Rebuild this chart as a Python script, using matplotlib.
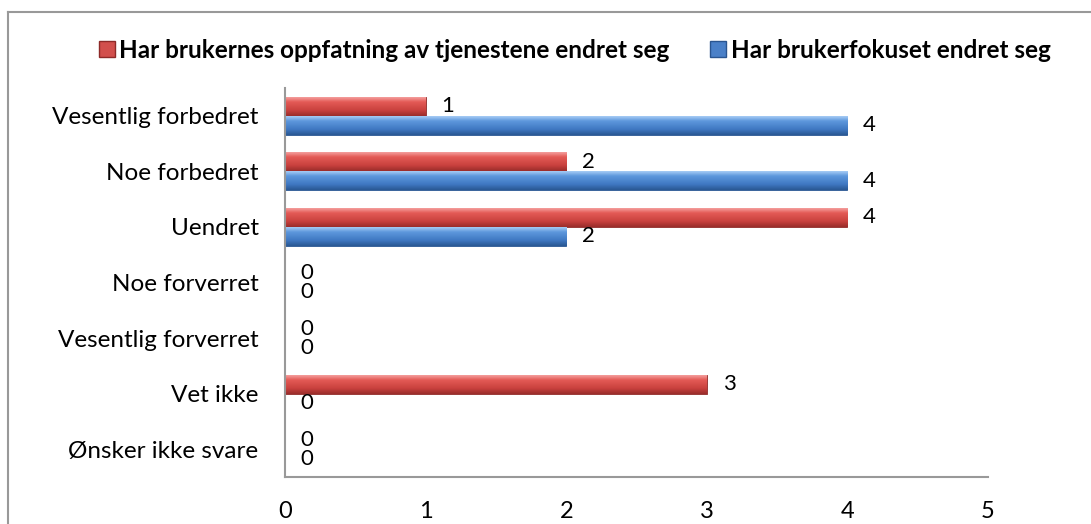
import numpy as np
import matplotlib.pyplot as plt
from matplotlib.lines import Line2D
from matplotlib.colors import LinearSegmentedColormap

categories = ['Vesentlig forbedret', 'Noe forbedret', 'Uendret', 'Noe forverret',
              'Vesentlig forverret', 'Vet ikke', 'Ønsker ikke svare']
oppfatning = [1, 2, 4, 0, 0, 3, 0]
fokus = [4, 4, 2, 0, 0, 0, 0]
series_names = ['Har brukernes oppfatning av tjenestene endret seg',
                'Har brukerfokuset endret seg']

plt.rcParams['font.family'] = ['Lato', 'DejaVu Sans']

red = '#D24F4C'
red_edge = '#8E2A28'
blue = '#4A80C8'
blue_edge = '#2A5590'
red_cmap = LinearSegmentedColormap.from_list(
    'r', [(0, '#F4A09E'), (0.25, '#E45A56'), (0.7, '#C9413E'), (1, '#9A2D2B')])
blue_cmap = LinearSegmentedColormap.from_list(
    'b', [(0, '#A8CDF5'), (0.25, '#5E98DD'), (0.7, '#3F78C2'), (1, '#2A5893')])

fig = plt.figure(figsize=(10.91, 5.24), dpi=100)
ax = fig.add_axes([285 / 1091, 1 - 477 / 524, (988 - 285) / 1091, (477 - 88) / 524])

y = np.arange(len(categories))
h = 0.34
grad = np.linspace(0, 1, 64).reshape(-1, 1)


def shade(bars, cmap):
    # fill each bar with a vertical gradient
    for b in bars:
        if b.get_width() <= 0:
            continue
        x0, y0 = b.get_x(), b.get_y()
        im = ax.imshow(grad, cmap=cmap, aspect='auto', interpolation='bicubic',
                       extent=(x0, x0 + b.get_width(), y0, y0 + b.get_height()),
                       origin='lower', zorder=2)
        im.set_clip_path(b)


b1 = ax.barh(y - h / 2, oppfatning, height=h, color=red, edgecolor=red_edge,
             linewidth=0.6, zorder=1)
b2 = ax.barh(y + h / 2, fokus, height=h, color=blue, edgecolor=blue_edge,
             linewidth=0.6, zorder=1)
shade(b1, red_cmap)
shade(b2, blue_cmap)

for i in range(len(categories)):
    ax.annotate(str(oppfatning[i]), (oppfatning[i], y[i] - h / 2), xytext=(16, 0),
                textcoords='offset points', ha='center', va='center', fontsize=16)
    ax.annotate(str(fokus[i]), (fokus[i], y[i] + h / 2), xytext=(16, 0),
                textcoords='offset points', ha='center', va='center', fontsize=16)

ax.set_xlim(0, 5)
ax.set_ylim(len(categories) - 0.5, -0.5)
ax.set_yticks(y)
ax.set_yticklabels(categories, fontsize=17.5)
ax.set_xticks(range(6))
ax.set_xticklabels([str(v) for v in range(6)], fontsize=17)
ax.tick_params(axis='y', length=0, pad=19)
ax.tick_params(axis='x', length=0, pad=17)
for s in ['top', 'right']:
    ax.spines[s].set_visible(False)
for s in ['left', 'bottom']:
    ax.spines[s].set_color('#999999')
    ax.spines[s].set_linewidth(1.5)
    ax.spines[s].set_zorder(3)

handles = [Line2D([], [], marker='s', linestyle='', markersize=12, markerfacecolor=red,
                  markeredgecolor=red_edge),
           Line2D([], [], marker='s', linestyle='', markersize=12, markerfacecolor=blue,
                  markeredgecolor=blue_edge)]
fig.legend(handles, series_names, loc='center', bbox_to_anchor=(574 / 1091, 1 - 50 / 524),
           ncol=2, frameon=False, prop={'weight': 'bold', 'size': 17.5},
           handletextpad=0.1, columnspacing=1.6, handlelength=0.8)

# chart border (left and top visible)
fig.add_artist(Line2D([8 / 1091, 8 / 1091], [0, 1 - 12 / 524], color='#999999', lw=1.5))
fig.add_artist(Line2D([8 / 1091, 1], [1 - 12 / 524, 1 - 12 / 524], color='#999999', lw=1.5))

fig.savefig('out.png', dpi=100)
